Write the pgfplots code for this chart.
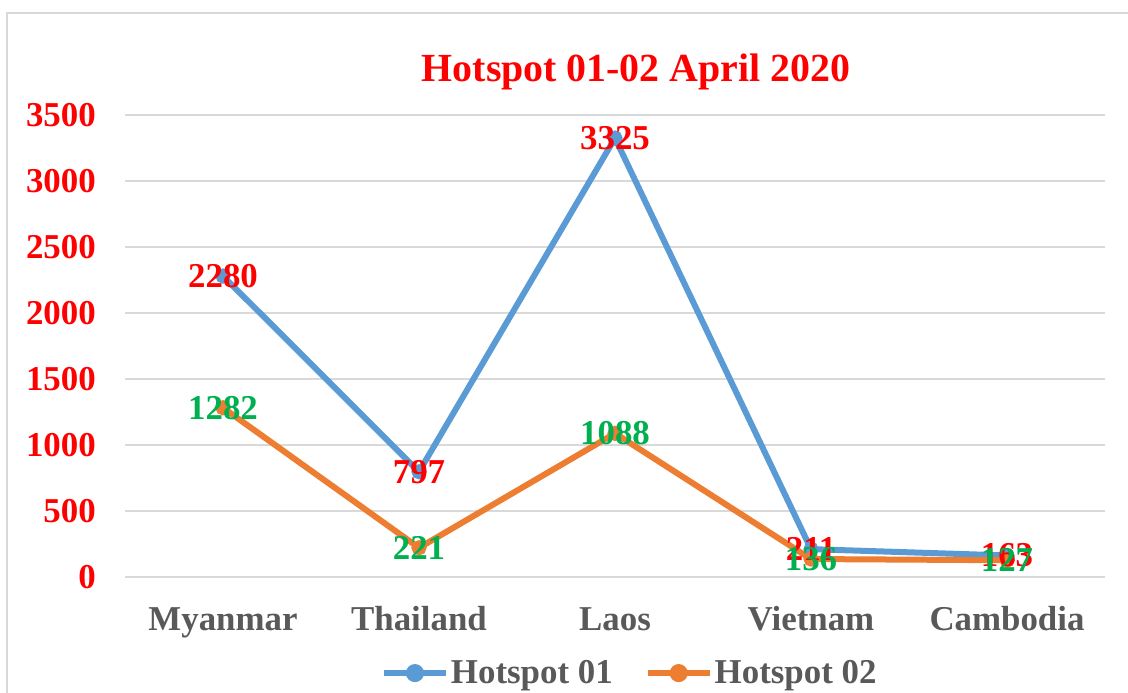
\documentclass[border=0pt]{standalone}
\usepackage{pgfplots}
\pgfplotsset{compat=1.18}
\usepackage{fontspec}
\setmainfont{Liberation Serif}
\definecolor{c1}{HTML}{5B9BD5}
\definecolor{c2}{HTML}{ED7D31}
\definecolor{lab}{HTML}{595959}
\definecolor{gridc}{HTML}{D9D9D9}
\definecolor{grn}{HTML}{00B050}
\newcommand{\lblfont}{\fontsize{35}{42}\selectfont\bfseries}
\begin{document}
\begin{tikzpicture}
\useasboundingbox (0,0) rectangle (1128bp,693bp);
\draw[gridc, line width=2bp] (7bp,-20bp) -- (7bp,680bp) -- (1150bp,680bp);
\node[text=red, font=\fontsize{40}{48}\selectfont\bfseries, anchor=base, inner sep=0pt] at (636bp,611bp) {Hotspot 01-02 April 2020};
\begin{axis}[
  at={(125bp,116bp)}, anchor=south west,
  scale only axis, width=980bp, height=462bp,
  xmin=-0.5, xmax=4.5, ymin=0, ymax=3500,
  ytick={0,500,...,3500},
  xtick={0,1,2,3,4},
  xticklabels={Myanmar,Thailand,Laos,Vietnam,Cambodia},
  /pgf/number format/.cd, 1000 sep={}, assume math mode=true, /pgfplots/.cd,
  axis line style={draw=none},
  major tick style={draw=none},
  ymajorgrids, grid style={gridc, line width=1.5bp},
  yticklabel style={font=\lblfont, text=red, anchor=east, inner sep=0pt, xshift=-29bp},
  xticklabel style={font=\lblfont, text=lab, anchor=base, inner sep=0pt, yshift=-53bp},
  clip=false,
  legend columns=2,
  legend style={at={(axis description cs:0.515,-0.208)}, anchor=center, draw=none, fill=none,
    font=\lblfont, text=lab, /tikz/every even column/.append style={column sep=30bp}},
  legend image code/.code={\draw[line width=6bp] (0bp,0bp) -- (62bp,0bp); \fill (31bp,0bp) circle (6bp);},
]
\addplot[c1, line width=6bp, mark=*, mark size=4.5bp] coordinates {(0,2280) (1,797) (2,3325) (3,211) (4,163)};
\addlegendentry{Hotspot 01}
\addplot[c2, line width=6bp, mark=*, mark size=4.5bp] coordinates {(0,1282) (1,221) (2,1088) (3,136) (4,127)};
\addlegendentry{Hotspot 02}
\addplot[draw=none, mark=none, forget plot, nodes near coords, every node near coord/.style={anchor=center, inner sep=0pt, font=\lblfont, text=red}] coordinates {(0,2280) (1,797) (2,3325) (3,211) (4,163)};
\addplot[draw=none, mark=none, forget plot, nodes near coords, every node near coord/.style={anchor=center, inner sep=0pt, font=\lblfont, text=grn}] coordinates {(0,1282) (1,221) (2,1088) (3,136) (4,127)};
\end{axis}
\end{tikzpicture}
\end{document}
